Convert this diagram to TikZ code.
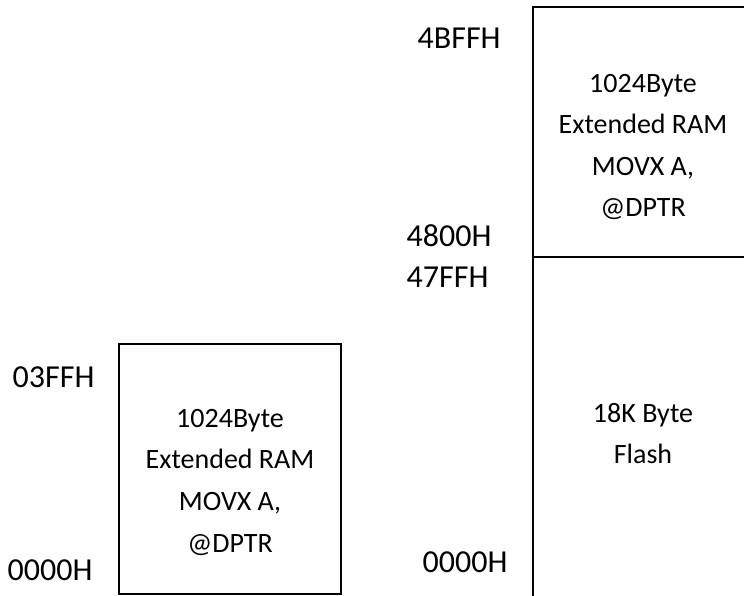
\documentclass[tikz,border=0pt]{standalone}
\usepackage{fontspec}
\setmainfont{Carlito}
\begin{document}
\begin{tikzpicture}[x=1pt,y=-1pt,
  addr/.style={anchor=base west,inner sep=0pt,font=\fontsize{32}{36}\selectfont},
  body/.style={anchor=base,inner sep=0pt,font=\fontsize{28}{32}\selectfont},
  mline/.style={line width=1.1pt,black}]
\useasboundingbox (0,0) rectangle (744,595);
% left box
\draw[mline] (119,344) rectangle (341,594);
\node[body] (l1) at (230,427) {1024Byte};
\node[body] (l2) at (230,468) {Extended RAM};
\node[body] (l3) at (230,510) {MOVX A,};
\node[body] (l4) at (230,552) {@DPTR};
% right column
\draw[mline] (760,7) -- (533,7) -- (533,600);
\draw[mline] (533,257) -- (760,257);
\node[body] (r1) at (643,92) {1024Byte};
\node[body] (r2) at (643,133) {Extended RAM};
\node[body] (r3) at (643,175) {MOVX A,};
\node[body] (r4) at (643,216) {@DPTR};
\node[body] (f1) at (643,422) {18K Byte};
\node[body] (f2) at (643,463) {Flash};
% address labels
\node[addr] (a1) at (12.5,387) {03FFH};
\node[addr] (a2) at (7.5,580) {0000H};
\node[addr] (a3) at (417.5,48) {4BFFH};
\node[addr] (a4) at (406.5,246) {4800H};
\node[addr] (a5) at (406.5,287) {47FFH};
\node[addr] (a6) at (422.5,572) {0000H};
\end{tikzpicture}
\end{document}
